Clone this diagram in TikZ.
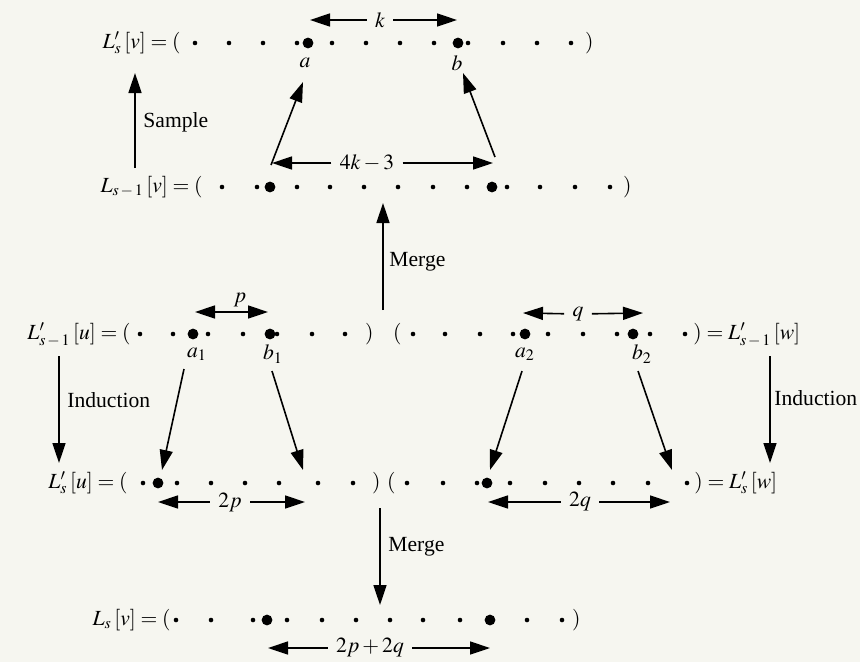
\documentclass[tikz,border=0pt]{standalone}
\usepackage{mathptmx}
\usepackage{fontspec}
\setmainfont{Liberation Serif}
\usetikzlibrary{arrows.meta}
\definecolor{paper}{RGB}{246,246,240}

\begin{document}
\begin{tikzpicture}[x=0.5pt,y=-0.5pt,
  every node/.style={font=\fontsize{10.8}{13}\selectfont},
  arr/.style={-{Triangle[length=10pt,width=6.5pt]},line width=0.8pt},
  darr/.style={{Triangle[length=10pt,width=6.5pt]}-{Triangle[length=10pt,width=6.5pt]},line width=0.8pt},
  sdot/.style={circle,fill,inner sep=0pt,minimum size=2.3pt},
  bdot/.style={circle,fill,inner sep=0pt,minimum size=5.4pt},
  lst/.style={inner sep=0pt,anchor=base east},
  lbl/.style={inner sep=1pt},
  wlbl/.style={inner sep=4pt}]
  \fill[paper] (0,0) rectangle (860,662);

  % row 1: L'_s[v]
  \node[lst] (r1) at (181,48) {$L'_{s}\,[v] = ($};
  \foreach \x in {195,229,263,297,332,366,400,434,468,503,537,571}
    \node[sdot] at (\x,43) {};
  \node[bdot] (a) at (308,43) {};
  \node[bdot] (b) at (458,43) {};
  \node[lst] (r1e) at (594,48) {$)$};
  \node[lbl] (alab) at (305,63) {$a$};
  \node[lbl] (blab) at (457,63) {$b$};

  % row 2: L_{s-1}[v]
  \node[lst] (r2) at (203,192) {$L_{s\,-\,1}\,[v] = ($};
  \foreach \x in {222,257,297,330,364,398,433,467,507,540,575,610}
    \node[sdot] at (\x,187) {};
  \node[bdot] at (270,187) {};
  \node[bdot] at (492,187) {};
  \node[lst] (r2e) at (632,192) {$)$};

  % row 3: L'_{s-1}[u] and L'_{s-1}[w]
  \node[lst] (r3) at (131,339) {$L'_{s\,-\,1}\,[u] = ($};
  \foreach \x in {140,173,208,243,277,312,345,413,445,480,513,548,583,617,650,685}
    \node[sdot] at (\x,334) {};
  \node[bdot] (a1) at (193,334) {};
  \node[bdot] (b1) at (270,334) {};
  \node[bdot] (a2) at (525,334) {};
  \node[bdot] (b2) at (633,334) {};
  \node[lst] (r3m) at (374,339) {$)$};
  \node[lst] (r3n) at (402,339) {$($};
  \node[inner sep=0pt,anchor=base west] (r3e) at (693,339) {$) = L'_{s\,-\,1}\,[w]$};
  \node[lbl] (a1lab) at (197,354) {$a_1$};
  \node[lbl] (b1lab) at (273,354) {$b_1$};
  \node[lbl] (a2lab) at (525,354) {$a_2$};
  \node[lbl] (b2lab) at (642,354) {$b_2$};

  % row 4: L'_s[u] and L'_s[w]
  \node[lst] (r4) at (128,488) {$L'_{s}\,[u] = ($};
  \foreach \x in {143,177,211,245,279,318,353,407,443,477,510,545,579,613,648,687}
    \node[sdot] at (\x,483) {};
  \node[bdot] at (158,483) {};
  \node[bdot] at (487,483) {};
  \node[lst] (r4m) at (381,488) {$)$};
  \node[lst] (r4n) at (396,488) {$($};
  \node[inner sep=0pt,anchor=base west] (r4e) at (694,488) {$) = L'_{s}\,[w]$};

  % row 5: L_s[v]
  \node[lst] (r5) at (171,625) {$L_{s}\,[v] = ($};
  \foreach \x in {176,211,253,287,322,356,390,423,460,527,562}
    \node[sdot] at (\x,620) {};
  \node[bdot] at (267,620) {};
  \node[bdot] at (490,620) {};
  \node[lst] (r5e) at (581,625) {$)$};

  % widths
  \node[wlbl] (k) at (380,20) {$k$};
  \coordinate (kl) at (310,20); \coordinate (kr) at (457,20);
  \draw[arr] (k) -- (kl); \draw[arr] (k) -- (kr);
  \node[wlbl] (fk) at (367,163) {$4k-3$};
  \coordinate (fkl) at (272,163); \coordinate (fkr) at (493,163);
  \draw[arr] (fk) -- (fkl); \draw[arr] (fk) -- (fkr);
  \node[lbl] (p) at (240,300) {$p$};
  \coordinate (pl) at (195,312); \coordinate (pr) at (268,312);
  \draw[darr] (pl) -- (pr);
  \node[wlbl] (q) at (578,314) {$q$};
  \coordinate (ql) at (523,313); \coordinate (qr) at (643,313);
  \draw[arr] (q) -- (ql); \draw[arr] (q) -- (qr);
  \node[wlbl] (tp) at (230,502) {$2p$};
  \coordinate (tpl) at (158,502); \coordinate (tpr) at (305,502);
  \draw[arr] (tp) -- (tpl); \draw[arr] (tp) -- (tpr);
  \node[wlbl] (tq) at (580,502) {$2q$};
  \coordinate (tql) at (488,502); \coordinate (tqr) at (670,502);
  \draw[arr] (tq) -- (tql); \draw[arr] (tq) -- (tqr);
  \node[wlbl] (tpq) at (370,648) {$2p+2q$};
  \coordinate (tpql) at (268,648); \coordinate (tpqr) at (490,648);
  \draw[arr] (tpq) -- (tpql); \draw[arr] (tpq) -- (tpqr);

  % steps
  \coordinate (s0) at (135,168); \coordinate (s1) at (135,73);
  \draw[arr] (s0) -- (s1);
  \node[anchor=west,inner sep=0pt] (sample) at (143,122) {Sample};
  \coordinate (m0) at (383,310); \coordinate (m1) at (383,203);
  \draw[arr] (m0) -- (m1);
  \node[anchor=west,inner sep=0pt] (merge1) at (389,262) {Merge};
  \coordinate (il0) at (59,356); \coordinate (il1) at (59,463);
  \draw[arr] (il0) -- (il1);
  \node[anchor=west,inner sep=0pt] (indl) at (67,400) {Induction};
  \coordinate (ir0) at (770,356); \coordinate (ir1) at (770,463);
  \draw[arr] (ir0) -- (ir1);
  \node[anchor=west,inner sep=0pt] (indr) at (774,398) {Induction};
  \coordinate (n0) at (380,508); \coordinate (n1) at (380,605);
  \draw[arr] (n0) -- (n1);
  \node[anchor=west,inner sep=0pt] (merge2) at (388,547) {Merge};

  % where the ends go
  \coordinate (ta) at (271,165); \coordinate (ha) at (303,82);
  \draw[arr] (ta) -- (ha);
  \coordinate (tb) at (495,157); \coordinate (hb) at (463,73);
  \draw[arr] (tb) -- (hb);
  \coordinate (ta1) at (184,369); \coordinate (ha1) at (162,470);
  \draw[arr] (ta1) -- (ha1);
  \coordinate (tb1) at (272,371); \coordinate (hb1) at (303,470);
  \draw[arr] (tb1) -- (hb1);
  \coordinate (ta2) at (522,371); \coordinate (ha2) at (490,470);
  \draw[arr] (ta2) -- (ha2);
  \coordinate (tb2) at (638,371); \coordinate (hb2) at (672,470);
  \draw[arr] (tb2) -- (hb2);
\end{tikzpicture}
\end{document}
